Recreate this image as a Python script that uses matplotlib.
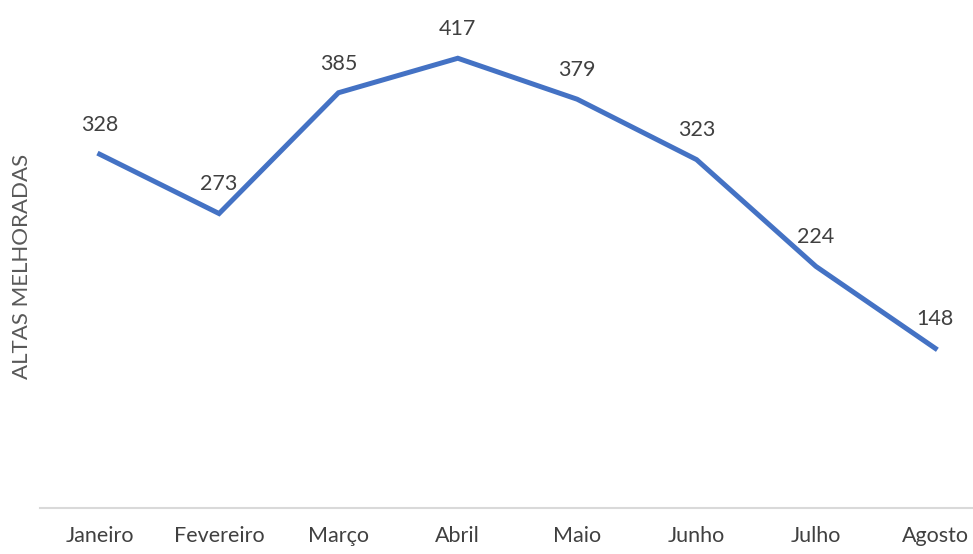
import matplotlib
matplotlib.use('Agg')
from matplotlib import pyplot as plt

meses = ['Janeiro', 'Fevereiro', 'Março', 'Abril', 'Maio', 'Junho', 'Julho', 'Agosto']
altas = [328, 273, 385, 417, 379, 323, 224, 148]

plt.rcParams['font.family'] = ['Lato', 'DejaVu Sans']
texto = '#404040'

fig = plt.figure(figsize=(9.73, 5.54), dpi=100)
ax = fig.add_axes([40 / 973, 46 / 554, 955 / 973, 508 / 554])

x = list(range(len(meses)))
ax.plot(x, altas, color='#4472C4', linewidth=3.6, solid_joinstyle='miter')
for xi, v in zip(x, altas):
    ax.annotate(str(v), (xi, v), xytext=(0, 21), textcoords='offset points',
                ha='center', va='center', fontsize=15.5, color=texto)

ax.set_xlim(-0.5, 7.5)
ax.set_ylim(0, 471)
ax.set_xticks(x)
ax.set_xticklabels(meses, fontsize=15.5, color=texto)
ax.tick_params(axis='x', length=0, pad=13)
ax.set_yticks([])
for side in ('top', 'right', 'left'):
    ax.spines[side].set_visible(False)
ax.spines['bottom'].set_color('#d9d9d9')
ax.spines['bottom'].set_linewidth(1.5)

fig.text(22 / 973, 1 - 266 / 554, 'ALTAS MELHORADAS', rotation=90, ha='center', va='center',
         fontsize=16, color='#595959')

fig.savefig('out.png', dpi=100)
